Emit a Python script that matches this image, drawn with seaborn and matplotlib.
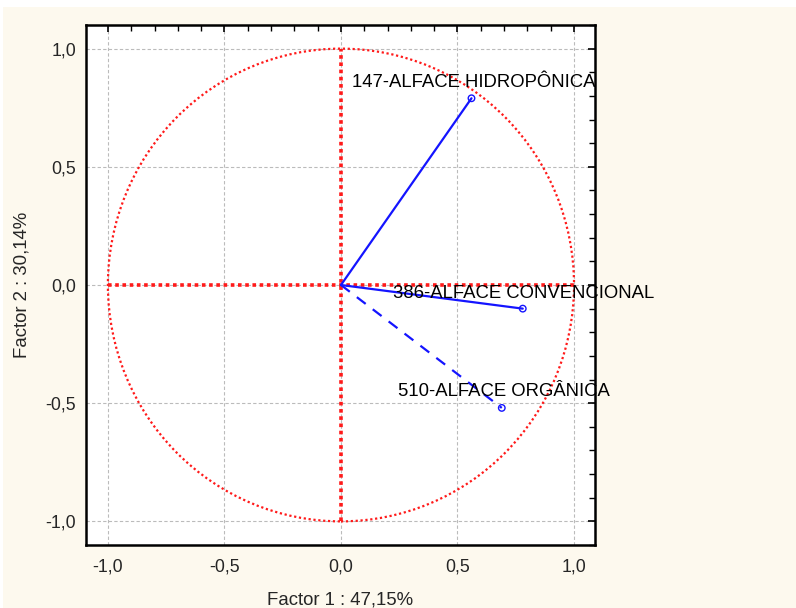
import matplotlib
matplotlib.use("Agg")
import matplotlib.pyplot as plt
from matplotlib.patches import Circle, Rectangle
from matplotlib.ticker import MultipleLocator, FuncFormatter
import seaborn as sns
import pandas as pd

# Data
labels = ["147-ALFACE HIDROPÔNICA", "386-ALFACE CONVENCIONAL", "510-ALFACE ORGÂNICA"]
factor1 = [0.56, 0.78, 0.69]
factor2 = [0.79, -0.10, -0.52]
dashed = [False, False, True]
label_x = [0.047, 0.223, 0.245]
label_y = [0.855, -0.036, -0.452]
x_label = "Factor 1 : 47,15%"
y_label = "Factor 2 : 30,14%"

sns.set_style("white")
plt.rcParams['font.family'] = ['Liberation Sans', 'DejaVu Sans']

bg = "#fdf9ee"
fig = plt.figure(figsize=(7.96, 6.08), dpi=100)
fig.patch.set_facecolor("white")
fig.patches.append(Rectangle((3/796, 0), 1, 1 - 7/608, transform=fig.transFigure,
                             facecolor=bg, edgecolor="none", zorder=-10))
ax = fig.add_axes([86/796, 1 - 545/608, (595-86)/796, (545-25)/608])
ax.set_facecolor("white")

ax.set_xlim(-1.094, 1.09)
ax.set_ylim(-1.10, 1.10)

# grid
for v in [-1.0, -0.5, 0.0, 0.5, 1.0]:
    ax.axvline(v, color="#bbbbbb", lw=0.8, ls=(0, (3, 2)), zorder=0)
    ax.axhline(v, color="#bbbbbb", lw=0.8, ls=(0, (3, 2)), zorder=0)

# unit circle and axis lines
circ = Circle((0, 0), 1.0, fill=False, edgecolor="#ff1a1a", lw=1.6, ls=(0, (1, 1.2)), zorder=2)
ax.add_patch(circ)
ax.plot([0, 0], [-1, 1], color="#ff1a1a", lw=2.6, ls=(0, (1, 1)), zorder=2)
ax.plot([-1, 1], [0, 0], color="#ff1a1a", lw=2.6, ls=(0, (1, 1)), zorder=2)

# vectors
for i in range(len(labels)):
    df = pd.DataFrame({"x": [0, factor1[i]], "y": [0, factor2[i]]})
    sns.lineplot(data=df, x="x", y="y", ax=ax, color="#1414ff", lw=1.6,
                 linestyle=(0, (5, 4)) if dashed[i] else "-", sort=False, zorder=3)
pts = pd.DataFrame({"x": factor1, "y": factor2})
sns.scatterplot(data=pts, x="x", y="y", ax=ax, marker="o", s=22,
                facecolor="none", edgecolor="#1414ff", linewidth=1.0, zorder=4)

for i in range(len(labels)):
    ax.text(label_x[i], label_y[i], labels[i], fontsize=13.3, ha="left", va="center",
            color="black", zorder=5, clip_on=False)

# ticks
ax.xaxis.set_major_locator(MultipleLocator(0.5))
ax.yaxis.set_major_locator(MultipleLocator(0.5))
ax.xaxis.set_minor_locator(MultipleLocator(0.1))
ax.yaxis.set_minor_locator(MultipleLocator(0.1))
fmt = FuncFormatter(lambda v, p: f"{v:.1f}".replace(".", ",").replace("-0,0", "0,0"))
ax.xaxis.set_major_formatter(fmt)
ax.yaxis.set_major_formatter(fmt)
ax.tick_params(which="both", direction="in", top=True, right=True, color="black")
ax.tick_params(which="major", length=5, width=1.2, labelsize=12.8)
ax.tick_params(axis="x", which="major", pad=10)
ax.tick_params(axis="y", which="major", pad=7)
ax.tick_params(which="minor", length=4, width=1.0)
for s in ax.spines.values():
    s.set_visible(True)
    s.set_linewidth(1.8)
    s.set_color("black")

ax.set_xlabel("")
ax.set_ylabel("")
fig.text(340/796, 1 - 600/608, x_label, fontsize=13.4, ha="center", va="center")
fig.text(22/796, 1 - 285/608, y_label, fontsize=13.4, ha="center", va="center", rotation=90)

fig.savefig("out.png", dpi=100, facecolor=fig.get_facecolor())
